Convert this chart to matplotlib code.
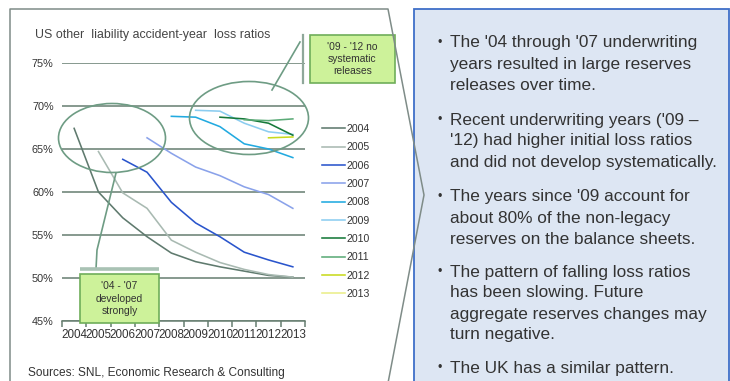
import numpy as np
import matplotlib.pyplot as plt
from matplotlib.patches import Ellipse, Rectangle

plt.rcParams['font.family'] = ['Liberation Sans', 'DejaVu Sans']

# Data
years = ['2004', '2005', '2006', '2007', '2008', '2009', '2010', '2011', '2012', '2013']
loss_2004 = [67.4, 60.0, 57.0, 54.8, 52.9, 51.9, 51.3, 50.8, 50.3, 50.1]
loss_2005 = [64.7, 59.9, 58.1, 54.4, 53.0, 51.8, 51.0, 50.4, 50.1]
loss_2006 = [63.8, 62.3, 58.8, 56.4, 54.8, 53.0, 52.1, 51.3]
loss_2007 = [66.3, 64.5, 62.9, 61.9, 60.6, 59.7, 58.1]
loss_2008 = [68.8, 68.7, 67.6, 65.6, 65.0, 64.0]
loss_2009 = [69.5, 69.4, 68.0, 67.0, 66.7]
loss_2010 = [68.7, 68.5, 68.0, 66.6]
loss_2011 = [68.4, 68.3, 68.5]
loss_2012 = [66.3, 66.4]
loss_2013 = [66.5]
series = [loss_2004, loss_2005, loss_2006, loss_2007, loss_2008,
          loss_2009, loss_2010, loss_2011, loss_2012, loss_2013]
colors = ['#5f7a6e', '#a9bab2', '#2a55cc', '#8aa2ea', '#22aae0',
          '#8ccdf0', '#16793a', '#5cab78', '#c8da1e', '#eaee8a']

bullets = [
    ["The '04 through '07 underwriting", "years resulted in large reserves", "releases over time."],
    ["Recent underwriting years ('09 \u2013", "'12) had higher initial loss ratios", "and did not develop systematically."],
    ["The years since '09 account for", "about 80% of the non-legacy", "reserves on the balance sheets."],
    ["The pattern of falling loss ratios", "has been slowing. Future", "aggregate reserves changes may", "turn negative."],
    ["The UK has a similar pattern."],
]

W, H = 730, 381
fig = plt.figure(figsize=(W / 100, H / 100), dpi=100)

# overlay in pixel coordinates for the decorations
ov = fig.add_axes([0, 0, 1, 1], zorder=3)
ov.set_xlim(0, W)
ov.set_ylim(H, 0)
ov.axis('off')
ov.patch.set_alpha(0)

# chart
ax = fig.add_axes([62 / W, (H - 321) / H, 243 / W, 258 / H], zorder=2)
ax.patch.set_alpha(0)
grid_c = '#667d70'
for i, vals in enumerate(series):
    x = np.arange(i, i + len(vals))
    ax.plot(x, vals, color=colors[i], lw=1.15, label=years[i])
ax.set_xlim(-0.5, len(years) - 0.5)
ax.set_ylim(45, 75)
ax.set_yticks(np.arange(45, 76, 5))
ax.set_yticklabels(['%d%%' % v for v in range(45, 76, 5)])
ax.yaxis.grid(True, color=grid_c, lw=1.1)
ax.set_axisbelow(True)
for s in ['left', 'right', 'top']:
    ax.spines[s].set_visible(False)
ax.spines['bottom'].set_color(grid_c)
ax.spines['bottom'].set_linewidth(1.1)
ax.set_xticks(np.arange(-0.5, len(years), 1.0))
ax.set_xticklabels([])
ax.set_xticks(np.arange(len(years)), minor=True)
ax.set_xticklabels(years, minor=True, fontsize=8.4, color='#333333')
ax.tick_params(axis='x', which='major', length=4, color=grid_c, width=1.1)
ax.tick_params(axis='x', which='minor', length=0, pad=6)
ax.tick_params(axis='y', length=0, pad=6, labelsize=7.8, labelcolor='#333333')

leg = ax.legend(loc='upper left', bbox_to_anchor=(322 / W, 1 - 124 / H),
                bbox_transform=fig.transFigure, frameon=False, fontsize=7.6,
                handlelength=2.2, handletextpad=0.1, labelspacing=0.79,
                borderpad=0, borderaxespad=0)
for t in leg.get_texts():
    t.set_color('#333333')

# chevron outline
ov.plot([10, 10, 388, 424, 388], [H + 2, 9, 9, 195, H + 2], color='#7f8c88', lw=1.1, zorder=5)

# right text box
ov.add_patch(Rectangle((414, 9), 315, H, facecolor='#dde6f3', edgecolor='#3f6fc8', lw=1.3, zorder=2))
line_h = 21
starts = [43, 120, 197, 272, 368]
for y0, lines in zip(starts, bullets):
    ov.text(437, y0, '\u2022', fontsize=9, va='center', ha='left', color='#333333', zorder=6)
    for k, ln in enumerate(lines):
        ov.text(450, y0 + k * line_h, ln, fontsize=12.4, va='center', ha='left',
                color='#333333', zorder=6)

# title and source
ov.text(35, 35, 'US other  liability accident-year  loss ratios', fontsize=8.9,
        color='#444444', va='center', ha='left')
ov.text(28, 373, 'Sources: SNL, Economic Research & Consulting', fontsize=8.6,
        color='#333333', va='center', ha='left')

# callouts
ell_c = '#6e9c84'
ov.add_patch(Ellipse((112, 138), 107, 69, fill=False, edgecolor=ell_c, lw=1.2))
ov.add_patch(Ellipse((249, 118), 119, 73, fill=False, edgecolor=ell_c, lw=1.2))
ov.plot([116, 97, 96], [173, 250, 269], color=ell_c, lw=1.2)
ov.plot([80, 159], [269, 269], color='#a9c2b4', lw=2.6, solid_capstyle='butt')
ov.plot([272, 300], [90, 42], color=ell_c, lw=1.2)
ov.plot([303, 303], [35, 83], color='#8fa89a', lw=1.6)

box_fc = '#cdf29a'
box_ec = '#6fae5a'
ov.add_patch(Rectangle((80, 274), 79, 49, facecolor=box_fc, edgecolor=box_ec, lw=1.2, zorder=4))
ov.text(119.5, 298.5, "'04 - '07\ndeveloped\nstrongly", fontsize=7.4, color='#333333',
        ha='center', va='center', linespacing=1.3, zorder=5)
ov.add_patch(Rectangle((310, 35), 85, 48, facecolor=box_fc, edgecolor=box_ec, lw=1.2, zorder=4))
ov.text(352.5, 59, "'09 - '12 no\nsystematic\nreleases", fontsize=7.4, color='#333333',
        ha='center', va='center', linespacing=1.3, zorder=5)

fig.savefig('out.png', dpi=100)
